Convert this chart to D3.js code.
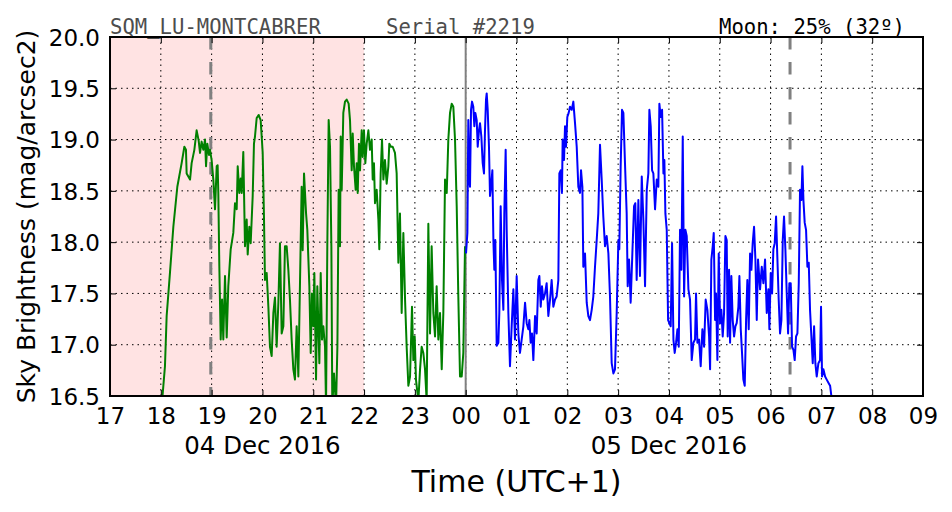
<!DOCTYPE html>
<html>
<head>
<meta charset="utf-8">
<script src="https://cdn.jsdelivr.net/npm/d3@7"></script>
<style>
  html, body { margin: 0; padding: 0; background: #fff; }
  svg { display: block; font-family: "DejaVu Sans", sans-serif; }
</style>
</head>
<body>
<svg id="chart" width="952" height="512"></svg>
<script>
// ---- data (minutes after 17:00 local, 04 Dec 2016) ----
const startTime = "2016-12-04T17:00:00Z";
const endTime = "2016-12-05T09:00:00Z";
const yTicks = [16.5, 17.0, 17.5, 18.0, 18.5, 19.0, 19.5, 20.0];
const dateLabels = [["2016-12-04T20:00:00Z", "04 Dec 2016"], ["2016-12-05T04:00:00Z", "05 Dec 2016"]];
const shadeSpan = ["2016-12-04T17:00:00Z", "2016-12-04T22:00:00Z"];
const dashedLines = ["2016-12-04T18:59:00Z", "2016-12-05T06:23:00Z"];
const midnightLine = "2016-12-05T00:00:00Z";
const titleLeft = "SQM_LU-MONTCABRER";
const titleMid = "Serial #2219";
const titleRight = "Moon: 25% (32º)";

const greenMin = [61.0,64.9,66.9,70.8,74.8,79.5,84.6,87.8,89.7,90.5,92.5,94.5,96.4,99.6,102.3,104.7,106.3,108.2,110.2,112.2,113.4,114.9,116.9,118.1,120.0,122.0,124.0,126.0,127.1,127.9,129.1,130.7,132.3,133.8,135.8,137.8,139.7,142.5,145.6,147.6,149.6,150.8,152.7,154.3,155.5,157.4,159.4,161.4,162.6,164.5,166.1,168.5,170.0,171.2,173.2,175.5,177.9,180.3,181.8,183.0,185.0,187.0,188.9,190.9,192.9,194.8,196.8,198.8,200.7,202.7,204.7,206.6,208.6,210.6,212.5,214.5,216.5,218.4,220.4,222.4,224.4,226.3,227.5,229.1,231.5,233.0,235.4,237.0,238.5,240.1,241.3,243.3,244.8,247.2,248.8,250.3,251.9,253.9,255.1,256.6,258.2,259.8,261.4,262.5,264.5,266.9,268.5,270.0,271.6,272.4,273.6,275.5,277.5,279.5,281.8,283.4,285.4,286.6,288.1,290.1,291.3,292.5,294.0,295.2,297.2,298.4,299.9,301.5,303.1,305.1,307.0,309.0,310.2,311.7,312.9,314.9,316.9,318.0,319.6,321.2,322.8,324.7,326.7,328.7,329.8,331.8,333.8,336.5,338.5,340.5,342.4,344.4,346.4,348.4,350.3,352.3,354.3,356.6,358.2,359.8,361.3,364.1,366.1,368.0,370.0,372.0,373.9,375.9,377.9,379.8,381.8,383.8,385.7,387.7,389.7,391.7,393.6,395.6,397.6,399.5,401.5,403.5,405.4,407.4,409.4,411.3,413.3,415.3,417.2,419.2];
const greenMag = [16.40,16.79,17.28,17.70,18.15,18.54,18.77,18.93,18.90,18.67,18.64,18.61,18.77,18.90,19.09,18.99,18.87,18.98,18.90,19.00,18.74,18.96,18.85,18.90,18.80,18.61,18.32,18.74,18.75,18.48,17.76,17.05,17.44,17.05,17.67,17.07,17.57,17.93,18.09,18.38,18.32,18.74,18.48,18.62,18.48,18.88,17.96,18.22,17.88,18.15,17.99,18.45,18.96,19.03,19.21,19.24,19.19,18.87,18.25,17.63,17.70,17.37,16.98,16.89,17.31,17.46,16.98,17.41,17.99,17.11,17.18,17.96,17.96,17.73,17.44,17.05,16.76,16.66,17.18,16.69,17.63,18.54,17.92,18.67,18.28,18.12,17.57,16.92,17.50,17.18,17.70,16.66,17.57,16.82,17.70,17.05,17.18,16.98,16.40,17.96,19.19,18.93,17.96,16.40,16.72,16.40,16.98,18.51,17.96,19.03,18.51,19.26,19.37,19.39,19.35,19.19,18.70,19.06,18.74,18.51,18.77,18.48,18.96,18.70,19.09,18.83,19.09,18.77,18.96,19.09,18.90,19.00,18.61,18.77,18.38,18.51,18.22,17.93,18.67,19.00,18.61,18.80,18.57,18.74,18.96,18.93,18.93,18.87,18.67,17.80,18.28,17.31,18.09,17.44,16.98,16.60,16.69,17.37,16.85,17.08,16.66,16.45,16.76,16.98,16.92,16.76,16.45,18.18,17.11,17.96,17.31,17.08,17.57,17.05,17.31,16.76,17.31,18.61,18.48,19.00,19.26,19.35,19.32,19.00,18.35,17.47,16.69,16.69,16.92,17.96];

const blueMin = [420.4,422.0,423.1,424.3,425.1,426.3,427.5,429.0,430.2,431.4,433.0,434.2,435.7,436.9,438.5,440.1,441.6,442.8,444.0,444.8,446.0,447.5,448.7,449.9,451.5,452.7,453.8,455.0,456.6,458.6,459.7,461.3,462.9,464.5,465.6,467.2,468.4,470.4,472.3,474.3,476.3,478.2,480.2,482.2,484.1,486.1,488.1,490.1,492.0,494.0,495.2,496.7,498.3,499.9,501.9,503.8,505.8,507.0,508.6,510.1,511.7,513.7,515.6,517.6,519.6,521.5,523.5,525.5,527.4,529.4,530.6,532.2,533.7,534.5,536.1,537.3,538.5,540.0,541.6,543.2,545.2,547.1,549.1,551.1,553.0,555.0,556.2,557.8,558.9,560.9,562.9,564.8,566.8,568.8,570.7,572.7,574.7,576.6,578.6,580.6,582.5,584.5,586.5,588.5,590.4,592.4,594.4,596.3,598.3,600.3,601.4,603.0,604.6,606.2,608.1,610.1,611.3,612.9,614.8,616.8,618.8,620.3,621.9,623.9,625.8,627.9,629.8,631.8,633.8,635.7,636.9,638.5,640.1,641.6,643.6,645.6,647.5,648.7,650.3,651.9,653.5,654.6,655.8,657.4,659.0,660.5,662.1,663.7,665.3,666.8,668.4,670.0,671.6,673.1,674.7,676.3,677.9,679.4,681.0,683.0,684.9,686.9,688.9,690.8,692.0,693.6,695.6,697.5,699.5,701.5,703.4,705.4,707.4,708.6,710.1,711.7,712.9,714.5,715.6,717.2,718.8,720.4,721.9,723.5,725.1,726.7,728.2,729.4,731.0,732.2,733.7,735.3,736.9,738.5,740.0,742.0,743.2,744.8,746.3,747.9,749.5,751.1,752.6,754.2,755.8,757.4,758.9,760.5,762.1,763.7,765.2,767.6,769.6,771.5,773.5,775.5,777.4,778.6,780.2,781.8,783.3,784.9,786.5,788.1,789.6,791.2,792.8,794.4,795.9,797.5,799.1,800.7,802.2,803.8,805.4,807.0,808.5,810.1,811.7,813.3,814.8,816.4,817.6,818.8,820.3,821.9,823.5,825.1,826.6,828.2,829.8,831.4,832.9,834.5,836.5,838.4,839.6,840.8,842.4,844.4,846.3,848.3,850.3,851.8];
const blueMag = [17.89,18.09,19.19,18.61,18.54,19.29,19.37,19.32,19.13,19.26,19.19,18.93,19.09,19.16,19.03,18.77,18.67,19.09,19.39,19.45,19.29,18.93,18.45,18.54,18.70,18.02,17.73,18.02,16.99,17.02,17.31,18.35,17.63,17.34,18.28,18.90,18.12,17.31,16.79,17.18,17.54,17.05,17.67,17.11,16.92,17.05,17.18,17.41,17.21,17.15,17.24,17.02,17.11,16.85,17.28,17.11,17.63,17.67,17.37,17.57,17.44,17.50,17.60,17.28,17.44,17.63,17.37,17.44,17.47,17.63,18.67,18.70,18.48,19.00,18.80,19.13,18.93,19.22,19.26,19.32,19.29,19.37,19.16,18.93,18.54,18.48,18.70,18.54,17.76,17.89,17.41,17.28,17.24,17.34,17.47,17.76,18.02,18.28,18.95,18.61,18.25,17.96,18.06,17.89,17.47,16.82,16.72,16.76,17.31,18.02,17.93,18.74,19.29,19.26,18.77,18.28,17.57,17.83,17.41,17.89,18.35,18.38,17.63,18.41,17.67,18.64,18.22,17.57,18.51,18.67,19.29,19.13,18.70,18.67,18.32,18.61,18.54,19.35,19.22,19.29,18.67,18.80,18.28,18.12,17.24,17.21,17.18,17.99,17.05,16.92,17.02,17.15,16.98,18.12,17.73,19.03,17.47,18.12,18.06,17.54,17.44,16.85,17.02,17.05,17.50,17.02,17.05,16.79,17.15,16.98,17.44,17.34,17.08,16.76,17.83,17.96,18.09,17.24,17.50,16.85,17.89,17.21,17.34,17.08,17.31,18.06,18.02,17.08,17.73,17.02,17.67,17.24,17.08,17.18,17.21,17.37,17.67,17.15,16.92,16.66,16.60,17.24,17.63,17.15,17.89,17.73,17.99,18.15,17.83,17.24,17.83,17.54,17.76,17.60,17.83,17.31,17.54,17.15,17.70,17.50,17.93,17.99,18.25,17.83,17.44,17.11,17.24,18.02,18.25,17.93,17.50,17.11,17.60,17.60,16.98,16.95,16.85,17.08,17.11,17.60,18.51,18.41,18.74,18.41,18.19,18.12,17.76,17.80,17.34,17.08,16.82,17.18,16.82,16.69,16.82,16.85,17.37,16.69,16.76,16.69,16.66,16.63,16.60,16.50];

// ---- layout ----
const svg = d3.select("#chart");
const W = 952, H = 512;
const m = { left: 110, right: 29, top: 37, bottom: 116 };
const x0 = m.left, x1 = W - m.right, y0 = m.top, y1 = H - m.bottom;

const base = new Date(startTime);
const toDate = mn => new Date(base.getTime() + mn * 60000);

const x = d3.scaleUtc().domain([new Date(startTime), new Date(endTime)]).range([x0, x1]);
const y = d3.scaleLinear().domain([16.5, 20.0]).range([y1, y0]);

svg.append("rect").attr("x", 0).attr("y", 0).attr("width", W).attr("height", H).attr("fill", "#fff");

svg.append("defs").append("clipPath").attr("id", "clip")
  .append("rect").attr("x", x0).attr("y", y0).attr("width", x1 - x0).attr("height", y1 - y0);

// shaded span
svg.append("rect")
  .attr("x", x(new Date(shadeSpan[0]))).attr("y", y0)
  .attr("width", x(new Date(shadeSpan[1])) - x(new Date(shadeSpan[0])))
  .attr("height", y1 - y0)
  .attr("fill", "#ffe3e3");

// grid
const hourTicks = x.ticks(d3.utcHour.every(1));
const grid = svg.append("g");
grid.selectAll("line.vg").data(hourTicks.slice(1, -1)).join("line")
  .attr("x1", d => x(d)).attr("x2", d => x(d)).attr("y1", y0).attr("y2", y1)
  .attr("stroke", "#000").attr("stroke-width", 1).attr("stroke-dasharray", "1.5,4");
grid.selectAll("line.hg").data(yTicks.slice(1, -1)).join("line")
  .attr("y1", d => y(d)).attr("y2", d => y(d)).attr("x1", x0).attr("x2", x1)
  .attr("stroke", "#000").attr("stroke-width", 1).attr("stroke-dasharray", "1.5,4");

// midnight solid line
svg.append("line")
  .attr("x1", x(new Date(midnightLine))).attr("x2", x(new Date(midnightLine)))
  .attr("y1", y0).attr("y2", y1).attr("stroke", "#808080").attr("stroke-width", 2);

// dashed twilight lines
svg.selectAll("line.tw").data(dashedLines).join("line")
  .attr("x1", d => x(new Date(d))).attr("x2", d => x(new Date(d)))
  .attr("y1", y0).attr("y2", y1)
  .attr("stroke", "#808080").attr("stroke-width", 3).attr("stroke-dasharray", "12.5,12.5");

// data lines
const line = d3.line().x(d => x(d[0])).y(d => y(d[1]));
const greenData = greenMin.map((t, i) => [toDate(t), greenMag[i]]);
const blueData = blueMin.map((t, i) => [toDate(t), blueMag[i]]);
const plot = svg.append("g").attr("clip-path", "url(#clip)");
plot.append("path").datum(greenData).attr("d", line)
  .attr("fill", "none").attr("stroke", "#008000").attr("stroke-width", 2).attr("stroke-linejoin", "round");
plot.append("path").datum(blueData).attr("d", line)
  .attr("fill", "none").attr("stroke", "#0000ff").attr("stroke-width", 2).attr("stroke-linejoin", "round");

// axes (ticks inward, all sides)
const tickLen = 6;
const xAxisB = d3.axisBottom(x).tickValues(hourTicks).tickSize(-tickLen).tickPadding(12)
  .tickFormat(d3.utcFormat("%H"));
const gxb = svg.append("g").attr("transform", `translate(0,${y1})`).call(xAxisB);
gxb.select(".domain").remove();
gxb.selectAll("text").attr("font-size", 23).style("font-family", "DejaVu Sans").attr("fill", "#000");

const xAxisT = d3.axisTop(x).tickValues(hourTicks).tickSize(-tickLen).tickFormat("");
const gxt = svg.append("g").attr("transform", `translate(0,${y0})`).call(xAxisT);
gxt.select(".domain").remove();

const yAxisL = d3.axisLeft(y).tickValues(yTicks).tickSize(-tickLen).tickPadding(10)
  .tickFormat(d3.format(".1f"));
const gyl = svg.append("g").attr("transform", `translate(${x0},0)`).call(yAxisL);
gyl.select(".domain").remove();
gyl.selectAll("text").attr("font-size", 23).style("font-family", "DejaVu Sans").attr("fill", "#000").attr("dy", "0.36em");

const yAxisR = d3.axisRight(y).tickValues(yTicks).tickSize(-tickLen).tickFormat("");
const gyr = svg.append("g").attr("transform", `translate(${x1},0)`).call(yAxisR);
gyr.select(".domain").remove();

svg.selectAll(".tick line").attr("stroke", "#000").attr("stroke-width", 1);

// frame
svg.append("rect").attr("x", x0).attr("y", y0).attr("width", x1 - x0).attr("height", y1 - y0)
  .attr("fill", "none").attr("stroke", "#000").attr("stroke-width", 2);

// date labels
svg.selectAll("text.date").data(dateLabels).join("text")
  .attr("x", d => x(new Date(d[0]))).attr("y", 454)
  .attr("text-anchor", "middle").attr("font-size", 24.5).attr("fill", "#000")
  .style("font-family", "DejaVu Sans")
  .text(d => d[1]);

// axis titles
svg.append("text").attr("x", (x0 + x1) / 2).attr("y", 492)
  .attr("text-anchor", "middle").attr("font-size", 30).attr("fill", "#000")
  .style("font-family", "DejaVu Sans")
  .text("Time (UTC+1)");
svg.append("text")
  .attr("transform", `translate(35,${(y0 + y1) / 2}) rotate(-90)`)
  .attr("text-anchor", "middle").attr("font-size", 25).attr("fill", "#000")
  .style("font-family", "DejaVu Sans")
  .text("Sky Brightness (mag/arcsec2)");

// header texts
const mono = "'DejaVu Sans Mono', 'Liberation Mono', monospace";
svg.append("text").attr("x", 110).attr("y", 34).style("font-family", mono).attr("font-size", 20.6)
  .attr("fill", "#4d4d4d").text(titleLeft);
svg.append("text").attr("x", 386).attr("y", 34).style("font-family", mono).attr("font-size", 20.6)
  .attr("fill", "#4d4d4d").text(titleMid);
svg.append("text").attr("x", 905).attr("y", 34).attr("text-anchor", "end").style("font-family", mono).attr("font-size", 20.6)
  .attr("fill", "#000").text(titleRight);
</script>
</body>
</html>
